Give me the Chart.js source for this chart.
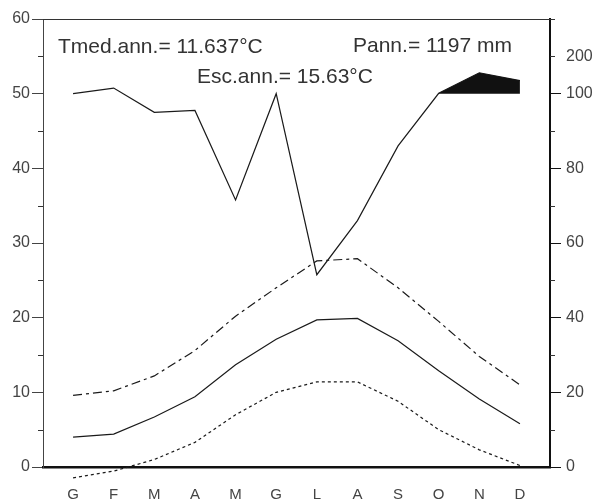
<!DOCTYPE html>
<html>
  <head>
    <title>Diagramma termopluviometrico</title>
    <script src="https://cdn.jsdelivr.net/npm/chart.js@4"></script>
    <style>
      html, body { margin: 0; padding: 0; background: #fff; }
      #wrap { width: 594px; height: 502px; }
    </style>
  </head>
  <body>
    <div id="wrap"><canvas id="climaChart" width="594" height="502"></canvas></div>

    <script>
      // monthly data
      const months = ["G", "F", "M", "A", "M", "G", "L", "A", "S", "O", "N", "D"];
      const precip = [100, 115, 95, 95.5, 71.5, 100, 51.5, 66, 86, 101, 156, 135]; // mm
      const tMean = [4.0, 4.4, 6.7, 9.4, 13.7, 17.1, 19.7, 19.9, 16.9, 12.9, 9.1, 5.8];
      const tMax = [9.6, 10.2, 12.2, 15.6, 20.2, 24.0, 27.6, 27.9, 24.0, 19.5, 14.8, 11.0];
      const tMin = [-1.45, -0.55, 1.0, 3.3, 7.0, 10.0, 11.4, 11.4, 8.8, 5.0, 2.3, 0.2];
      const humidMonths = [9, 10, 11]; // O, N, D shaded black

      const tempTicks = [0, 10, 20, 30, 40, 50, 60];
      const tempMinor = [5, 15, 25, 35, 45, 55];
      const precipTicks = [0, 20, 40, 60, 80, 100, 200];
      const precipMinor = [10, 30, 50, 70, 90, 200, 300];

      const notes = {
        tmed: "Tmed.ann.= 11.637°C",
        pann: "Pann.= 1197 mm",
        esc: "Esc.ann.= 15.63°C",
      };

      // precipitation scale: 2 mm per °C up to 100 mm, 20 mm per °C above
      function toAxis(p) {
        return p <= 100 ? p / 2 : 50 + (p - 100) / 20;
      }

      const ink = "#1a1a1a";
      const font = '"Liberation Sans", Arial, sans-serif';

      const pts = (arr) => arr.map((v, i) => ({ x: i, y: v }));

      // short ticks + top frame line + text notes
      const extras = {
        id: "extras",
        afterDraw(chart) {
          const { ctx, chartArea: a } = chart;
          const y = chart.scales.y;
          const y2 = chart.scales.y2;
          ctx.save();
          ctx.strokeStyle = "#333";
          ctx.lineWidth = 1;
          ctx.beginPath();
          ctx.moveTo(a.left, a.top + 0.5);
          ctx.lineTo(a.right + 5, a.top + 0.5);
          tempMinor.forEach((v) => {
            const py = Math.round(y.getPixelForValue(v)) + 0.5;
            ctx.moveTo(a.left - 5, py);
            ctx.lineTo(a.left, py);
          });
          precipMinor.forEach((p) => {
            const py = Math.round(y2.getPixelForValue(toAxis(p))) + 0.5;
            ctx.moveTo(a.right, py);
            ctx.lineTo(a.right + 5, py);
          });
          ctx.stroke();

          ctx.fillStyle = "#333";
          ctx.font = "21px " + font;
          ctx.textBaseline = "alphabetic";
          ctx.fillText(notes.tmed, 58, 53);
          ctx.fillText(notes.pann, 353, 52);
          ctx.fillText(notes.esc, 197, 83);
          ctx.restore();
        },
      };

      new Chart(document.getElementById("climaChart"), {
        type: "line",
        data: {
          datasets: [
            {
              label: "humid",
              data: pts(precip.map((p, i) => (humidMonths.includes(i) ? toAxis(p) : null))),
              yAxisID: "y2",
              borderWidth: 0,
              pointRadius: 0,
              backgroundColor: "#111",
              fill: { value: 50 },
            },
            {
              label: "Precipitazioni",
              data: pts(precip.map(toAxis)),
              yAxisID: "y2",
              borderColor: ink,
              borderWidth: 1.2,
              pointRadius: 0,
              fill: false,
            },
            {
              label: "T max",
              data: pts(tMax),
              borderColor: ink,
              borderWidth: 1.2,
              borderDash: [9, 4, 3, 4],
              pointRadius: 0,
              fill: false,
            },
            {
              label: "T media",
              data: pts(tMean),
              borderColor: ink,
              borderWidth: 1.2,
              pointRadius: 0,
              fill: false,
            },
            {
              label: "T min",
              data: pts(tMin),
              borderColor: ink,
              borderWidth: 1.2,
              borderDash: [3, 3],
              pointRadius: 0,
              fill: false,
              clip: false,
            },
          ],
        },
        options: {
          responsive: false,
          animation: false,
          layout: { padding: { top: 19, left: 0, right: 0, bottom: 0 } },
          plugins: {
            legend: { display: false },
            tooltip: { enabled: false },
          },
          scales: {
            x: {
              type: "linear",
              min: -0.74,
              max: 11.74,
              afterFit: (s) => { s.height = 35; },
              afterBuildTicks: (s) => { s.ticks = months.map((m, i) => ({ value: i })); },
              grid: { display: false },
              border: { color: "#111", width: 2.5 },
              ticks: {
                padding: 11,
                color: "#444",
                font: { family: font, size: 15 },
                callback: (v) => months[v],
              },
            },
            y: {
              position: "left",
              min: 0,
              max: 60,
              afterFit: (s) => { s.width = 43; },
              afterBuildTicks: (s) => { s.ticks = tempTicks.map((v) => ({ value: v })); },
              grid: { drawOnChartArea: false, tickLength: 11, color: "#444" },
              border: { color: "#444", width: 1 },
              ticks: {
                padding: 2,
                color: "#444",
                font: { family: font, size: 16 },
              },
            },
            y2: {
              position: "right",
              min: 0,
              max: 60,
              afterFit: (s) => { s.width = 44; },
              afterBuildTicks: (s) => {
                s.ticks = precipTicks.map((p) => ({ value: toAxis(p) }));
              },
              grid: {
                drawOnChartArea: false,
                tickLength: 11,
                color: (c) => (c.tick && c.tick.value > 50 ? "rgba(0,0,0,0)" : "#111"),
              },
              border: { color: "#111", width: 2 },
              ticks: {
                padding: 5,
                color: "#444",
                font: { family: font, size: 16 },
                callback: (v) => precipTicks[precipTicks.map(toAxis).indexOf(v)],
              },
            },
          },
        },
        plugins: [extras],
      });
    </script>
  </body>
</html>
